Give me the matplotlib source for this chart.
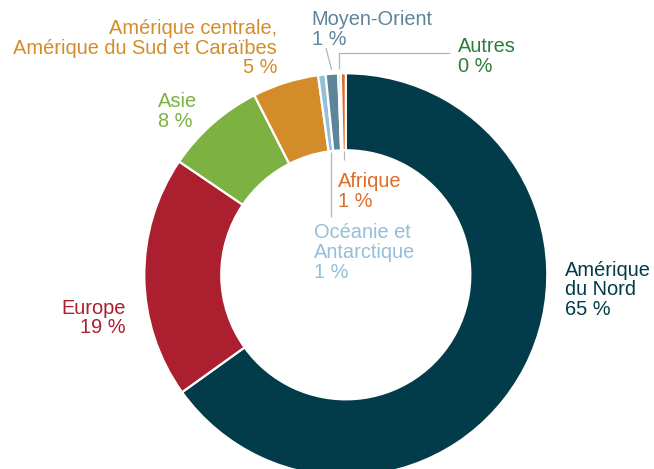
import numpy as np
import matplotlib.pyplot as plt

# Data
regions = ["Amérique\ndu Nord", "Europe", "Asie",
           "Amérique centrale,\nAmérique du Sud et Caraïbes",
           "Océanie et\nAntarctique", "Moyen-Orient", "Autres", "Afrique"]
shares = [65.1, 19.4, 8.0, 5.3, 0.6, 1.0, 0.2, 0.4]
share_labels = ["65 %", "19 %", "8 %", "5 %", "1 %", "1 %", "0 %", "1 %"]
colors = ["#023c4a", "#ab1f2f", "#7db142", "#d48c2a",
          "#93bfd9", "#5e8499", "#5aa35a", "#de6c26"]
text_colors = ["#023c4a", "#ab1f2f", "#7db142", "#d48c2a",
               "#93bfd9", "#5e8499", "#2f7d3a", "#de6c26"]

W, H = 654, 469
cx, cy, R = 345.8, 274.8, 201.5   # pie centre and radius in pixels
hole = 0.618

plt.rcParams['font.family'] = ['Liberation Sans', 'DejaVu Sans']

fig = plt.figure(figsize=(W / 100, H / 100), dpi=100)
ax = fig.add_axes([0, 0, 1, 1])

wedges, _ = ax.pie(shares, colors=colors, startangle=90, counterclock=False,
                   radius=1, wedgeprops=dict(width=1 - hole, edgecolor='white', linewidth=1.6))

# pie() resets the limits, so set them afterwards
ax.set_xlim(-cx / R, (W - cx) / R)
ax.set_ylim(-(H - cy) / R, cy / R)
ax.set_aspect('equal')
ax.axis('off')


def px(x, y):
    # pixel position -> data position
    return (x - cx) / R, (cy - y) / R


# label placement: (pixel x, last-line baseline pixel y, ha)
label_pos = [(565, 315, 'left'), (126, 333.3, 'right'), (158, 126.7, 'left'),
             (277, 73.3, 'right'), (314.3, 278, 'left'), (311.7, 45, 'left'),
             (458.3, 71.7, 'left'), (338.3, 206.7, 'left')]

for name, pct, col, (x, y, ha) in zip(regions, share_labels, text_colors, label_pos):
    ax.text(*px(x, y), f"{name}\n{pct}", ha=ha, va='baseline', color=col,
            fontsize=14.4, linespacing=1.05)


def mid(w):
    return np.deg2rad((w.theta1 + w.theta2) / 2)


line_kw = dict(color='#b5b5b5', lw=0.9, solid_capstyle='butt')

# Moyen-Orient leader
a = mid(wedges[5])
x0, y0 = 1.02 * np.cos(a), 1.02 * np.sin(a)
x1, y1 = px(326, 48)
ax.plot([x0, x1], [y0, y1], **line_kw)

# Autres leader (up then right)
a = mid(wedges[6])
x0, y0 = 1.02 * np.cos(a), 1.02 * np.sin(a)
_, ytop = px(0, 53.3)
xr, _ = px(450, 0)
ax.plot([x0, x0, xr], [y0, ytop, ytop], **line_kw)

# Afrique and Océanie leaders (down into the hole)
for i, ybot in [(7, 160), (4, 216.7)]:
    a = mid(wedges[i])
    x0, y0 = hole * np.cos(a), hole * np.sin(a)
    ax.plot([x0, x0], [y0 - 0.005, px(0, ybot)[1]], **line_kw)

fig.savefig("out.png", dpi=100)
